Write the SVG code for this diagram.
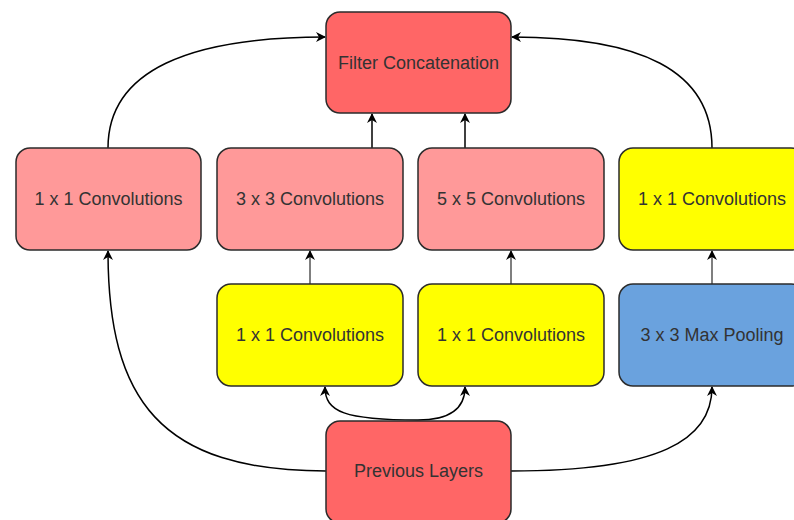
<svg xmlns="http://www.w3.org/2000/svg" width="794" height="520" viewBox="0 0 794 520">
  <style>
    .box { stroke: #2b2b2b; stroke-width: 1.5; }
    .red { fill: #FF6666; }
    .pink { fill: #FF9999; }
    .yellow { fill: #FFFF00; }
    .blue { fill: #6AA2DE; }
    .label { font-family: "Liberation Sans", Arial, sans-serif; font-size: 18px; fill: #333333; text-anchor: middle; dominant-baseline: central; }
    .edge { fill: none; stroke: #000000; stroke-width: 1.5; marker-end: url(#arrow); }
    .edge.short { stroke: #555555; }
  </style>
  <defs>
    <marker id="arrow" viewBox="0 0 10 10" refX="9" refY="5" markerWidth="10" markerHeight="10" markerUnits="userSpaceOnUse" orient="auto">
      <path d="M0,0 L10,5 L0,10 L3,5 Z" fill="#000000"/>
    </marker>
  </defs>

  <rect width="794" height="520" fill="#ffffff"/>

  <!-- connectors -->
  <g id="connectors">
    <path class="edge" d="M108,148 C108,70 190,37 325,37"/>
    <path class="edge" d="M712,148 C712,70 640,37 512,37"/>
    <path class="edge" d="M372,148 L372,114"/>
    <path class="edge" d="M465,148 L465,114"/>
    <path class="edge short" d="M310,284 L310,251"/>
    <path class="edge short" d="M511,284 L511,251"/>
    <path class="edge short" d="M712,284 L712,251"/>
    <path class="edge" d="M418,420 C345,420 325,412 325,387"/>
    <path class="edge" d="M418,420 C445,420 465,412 465,387"/>
    <path class="edge" d="M326,471 C160,471 108,400 108,251"/>
    <path class="edge" d="M511,471 C660,471 712,440 712,387"/>
  </g>

  <g id="filter-concat">
    <rect class="box red" x="326" y="12" width="185" height="101" rx="14"/>
    <text class="label" x="418.5" y="63">Filter Concatenation</text>
  </g>

  <g id="conv1x1-a">
    <rect class="box pink" x="16" y="148" width="185" height="102" rx="14"/>
    <text class="label" x="108.5" y="199">1 x 1 Convolutions</text>
  </g>
  <g id="conv3x3">
    <rect class="box pink" x="217" y="148" width="186" height="102" rx="14"/>
    <text class="label" x="310" y="199">3 x 3 Convolutions</text>
  </g>
  <g id="conv5x5">
    <rect class="box pink" x="418" y="148" width="186" height="102" rx="14"/>
    <text class="label" x="511" y="199">5 x 5 Convolutions</text>
  </g>
  <g id="conv1x1-d">
    <rect class="box yellow" x="619" y="148" width="186" height="102" rx="14"/>
    <text class="label" x="712" y="199">1 x 1 Convolutions</text>
  </g>

  <g id="conv1x1-b">
    <rect class="box yellow" x="217" y="284" width="186" height="102" rx="14"/>
    <text class="label" x="310" y="335">1 x 1 Convolutions</text>
  </g>
  <g id="conv1x1-c">
    <rect class="box yellow" x="418" y="284" width="186" height="102" rx="14"/>
    <text class="label" x="511" y="335">1 x 1 Convolutions</text>
  </g>
  <g id="maxpool">
    <rect class="box blue" x="619" y="284" width="186" height="102" rx="14"/>
    <text class="label" x="712" y="335">3 x 3 Max Pooling</text>
  </g>

  <g id="previous-layers">
    <rect class="box red" x="326" y="421" width="185" height="102" rx="14"/>
    <text class="label" x="418.5" y="471">Previous Layers</text>
  </g>
</svg>
